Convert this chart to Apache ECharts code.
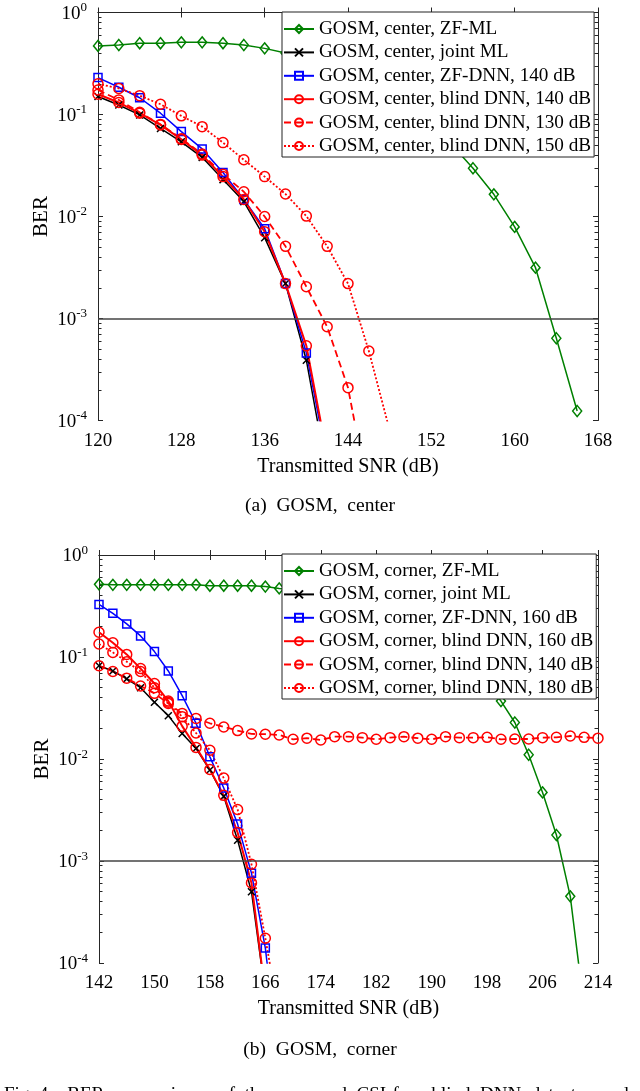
<!DOCTYPE html>
<html>
<head>
<meta charset="utf-8">
<script src="https://cdn.jsdelivr.net/npm/echarts@6/dist/echarts.min.js"></script>
<style>
  html, body { margin: 0; padding: 0; background: #fff; }
  #chart { width: 640px; height: 1091px; }
</style>
</head>
<body>
<div id="chart"></div>
<script>
// SNR grids (dB)
const snrA = [120, 122, 124, 126, 128, 130, 132, 134, 136, 138, 140, 142, 144, 146, 148, 150, 152, 154, 156, 158, 160, 162, 164, 166, 168]
const snrB = [142, 144, 146, 148, 150, 152, 154, 156, 158, 160, 162, 164, 166, 168, 170, 172, 174, 176, 178, 180,
  182, 184, 186, 188, 190, 192, 194, 196, 198, 200, 202, 204, 206, 208, 210, 212, 214]

// (a) GOSM, center
const zfmlA = [0.47, 0.48, 0.50, 0.50, 0.51, 0.51, 0.50, 0.48, 0.445, 0.40, 0.35, 0.29, 0.23, 0.17, 0.13, 0.095,
  0.07, 0.05, 0.0297, 0.0165, 0.0079, 0.00315, 0.00064, 0.000124]
const jointA = [0.15, 0.124, 0.099, 0.073, 0.054, 0.038, 0.023, 0.014, 0.0062, 0.0022, 0.00039, 0.00003]
const zfdnnA = [0.23, 0.185, 0.146, 0.103, 0.068, 0.046, 0.027, 0.0147, 0.0076, 0.0022, 0.00046, 0.00004]
const blind140A = [0.158, 0.131, 0.103, 0.079, 0.057, 0.040, 0.0246, 0.0147, 0.0071, 0.0022, 0.00054, 0.000045]
const blind130A = [0.174, 0.139, 0.105, 0.080, 0.058, 0.041, 0.026, 0.0175, 0.010, 0.0051, 0.00205, 0.00083, 0.00021, 0.000018]
const blind150A = [0.20, 0.18, 0.153, 0.126, 0.097, 0.076, 0.053, 0.036, 0.0246, 0.0166, 0.0101, 0.0051, 0.0022, 0.00048, 0.00008]

// (b) GOSM, corner
const zfmlB = [0.516, 0.51, 0.51, 0.51, 0.51, 0.51, 0.51, 0.51, 0.50, 0.50, 0.50, 0.50, 0.49, 0.47, 0.46, 0.45,
  0.44, 0.43, 0.41, 0.39, 0.36, 0.33, 0.29, 0.25, 0.20, 0.155, 0.115, 0.08, 0.055, 0.037, 0.0228, 0.011,
  0.0047, 0.0018, 0.00045, 0.000036]
const jointB = [0.082, 0.073, 0.061, 0.050, 0.036, 0.0266, 0.0178, 0.0127, 0.0078, 0.0043, 0.0016, 0.0005, 0.00005]
const zfdnnB = [0.328, 0.268, 0.211, 0.161, 0.113, 0.073, 0.0418, 0.0224, 0.0105, 0.0052, 0.0023, 0.00076, 0.00014, 0.00001]
const blind160B = [0.175, 0.138, 0.106, 0.077, 0.055, 0.037, 0.021, 0.013, 0.0079, 0.0044, 0.0019, 0.00061, 0.00005]
const blind140B = [0.082, 0.072, 0.062, 0.052, 0.044, 0.035, 0.028, 0.025, 0.0224, 0.0206, 0.019, 0.0176, 0.0175,
  0.0172, 0.0156, 0.016, 0.01535, 0.01655, 0.01655, 0.0162, 0.0156, 0.0162, 0.01655, 0.016, 0.0156, 0.01655,
  0.0162, 0.0162, 0.0163, 0.0156, 0.0157, 0.0157, 0.0162, 0.0163, 0.0168, 0.0163, 0.016]
const blind180B = [0.134, 0.111, 0.09, 0.072, 0.05, 0.036, 0.026, 0.018, 0.0122, 0.0065, 0.0032, 0.00093, 0.000175, 0.00003]

const namesA = ['GOSM, center, ZF-ML', 'GOSM, center, joint ML', 'GOSM, center, ZF-DNN, 140 dB',
  'GOSM, center, blind DNN, 140 dB', 'GOSM, center, blind DNN, 130 dB', 'GOSM, center, blind DNN, 150 dB']
const namesB = ['GOSM, corner, ZF-ML', 'GOSM, corner, joint ML', 'GOSM, corner, ZF-DNN, 160 dB',
  'GOSM, corner, blind DNN, 160 dB', 'GOSM, corner, blind DNN, 140 dB', 'GOSM, corner, blind DNN, 180 dB']

const BER_REF = 1e-3
const FONT = '"Liberation Serif", "DejaVu Serif", serif'
const AX = '#262626'

// minor ticks of the log axis, as exponents (log10 of 2..9 in every decade)
const minorExp = []
for (let e = -4; e < 0; e++) {
  for (let k = 2; k <= 9; k++) minorExp.push(e + Math.log10(k))
}

const styles = [
  { color: '#008000', symbol: 'diamond', symbolSize: [9, 11], width: 1.5, type: 'solid' },
  { color: '#000000', symbol: 'path://M0,0L10,10M10,0L0,10', symbolSize: 7, width: 1.5, type: 'solid' },
  { color: '#0000ff', symbol: 'rect', symbolSize: 8, width: 1.5, type: 'solid' },
  { color: '#ff0000', symbol: 'circle', symbolSize: 10, width: 2, type: 'solid' },
  { color: '#ff0000', symbol: 'circle', symbolSize: 10, width: 1.8, type: [7, 4] },
  { color: '#ff0000', symbol: 'circle', symbolSize: 10, width: 1.8, type: [2, 2] }
]

const mkSeries = (name, xs, ys, st, xi, yi, refLine) => {
  const s = {
    type: 'line',
    name,
    xAxisIndex: xi,
    yAxisIndex: yi,
    data: ys.map((v, i) => [xs[i], v]),
    symbol: st.symbol,
    symbolSize: st.symbolSize,
    clip: true,
    itemStyle: { color: 'rgba(0,0,0,0)', borderColor: st.color, borderWidth: 1.5 },
    lineStyle: { color: st.color, width: st.width, type: st.type },
    emphasis: { disabled: true }
  }
  if (refLine) {
    s.markLine = {
      silent: true,
      symbol: ['none', 'none'],
      label: { show: false },
      lineStyle: { color: '#444', width: 1.5, type: 'solid' },
      data: [[{ coord: [xs[0], BER_REF] }, { coord: [xs[xs.length - 1], BER_REF] }]]
    }
  }
  return s
}

const xAxisPair = (grid, min, max) => [
  {
    type: 'value', gridIndex: grid, position: 'bottom', min, max, interval: 8,
    name: 'Transmitted SNR (dB)', nameLocation: 'middle', nameGap: 36, nameMoveOverlap: false,
    nameTextStyle: { fontFamily: FONT, fontSize: 20, color: '#000' },
    axisLine: { show: true, lineStyle: { color: AX, width: 1 } },
    axisTick: { inside: true, length: 5, lineStyle: { color: AX } },
    axisLabel: { fontFamily: FONT, fontSize: 19, color: '#000', margin: 11 },
    splitLine: { show: false }
  },
  {
    type: 'value', gridIndex: grid, position: 'top', min, max, interval: 8,
    axisLine: { show: true, lineStyle: { color: AX, width: 1 } },
    axisTick: { inside: true, length: 5, lineStyle: { color: AX } },
    axisLabel: { show: false },
    splitLine: { show: false }
  }
]

const logLabel = v => {
  const e = Math.round(Math.log10(v))
  return '{b|10}{s|' + e + '}'
}

const yAxisSet = grid => {
  const base = { type: 'log', logBase: 10, gridIndex: grid, min: 1e-4, max: 1, splitLine: { show: false } }
  const minor = position => ({
    type: 'value', gridIndex: grid, position, min: -4, max: 0,
    axisLine: { show: false },
    axisTick: { show: true, inside: true, length: 3.5, customValues: minorExp, lineStyle: { color: AX } },
    axisLabel: { show: false },
    splitLine: { show: false }
  })
  return [
    Object.assign({}, base, {
      position: 'left',
      name: 'BER', nameLocation: 'middle', nameGap: 46, nameRotate: 90, nameMoveOverlap: false,
      nameTextStyle: { fontFamily: FONT, fontSize: 21, color: '#000' },
      axisLine: { show: true, lineStyle: { color: AX, width: 1 } },
      axisTick: { inside: true, length: 5, lineStyle: { color: AX } },
      axisLabel: {
        formatter: logLabel, margin: 11,
        rich: {
          b: { fontFamily: FONT, fontSize: 19, color: '#000', verticalAlign: 'bottom' },
          s: { fontFamily: FONT, fontSize: 13, color: '#000', verticalAlign: 'top', padding: [0, 0, 9, 0] }
        }
      }
    }),
    minor('left'),
    Object.assign({}, base, {
      position: 'right',
      axisLine: { show: true, lineStyle: { color: AX, width: 1 } },
      axisTick: { inside: true, length: 5, lineStyle: { color: AX } },
      axisLabel: { show: false }
    }),
    minor('right')
  ]
}

const legendBox = (names, top) => ({
  data: names,
  orient: 'vertical',
  left: 282,
  top,
  padding: [7, 3, 1, 1],
  itemGap: 3.4,
  itemWidth: 30,
  itemHeight: 10,
  backgroundColor: '#fff',
  borderColor: '#222',
  borderWidth: 1,
  borderRadius: 0,
  textStyle: { fontFamily: FONT, fontSize: 19.2, color: '#000', lineHeight: 20 },
  selectedMode: false
})

const seriesA = [zfmlA, jointA, zfdnnA, blind140A, blind130A, blind150A]
  .map((ys, i) => mkSeries(namesA[i], snrA, ys, styles[i], 0, 0, i === 1))
const seriesB = [zfmlB, jointB, zfdnnB, blind160B, blind140B, blind180B]
  .map((ys, i) => mkSeries(namesB[i], snrB, ys, styles[i], 2, 4, i === 1))

const chart = echarts.init(document.getElementById('chart'))
chart.setOption({
  animation: false,
  backgroundColor: '#fff',
  grid: [
    { left: 98, top: 12.5, width: 500, height: 408 },
    { left: 99, top: 555, width: 499, height: 408 }
  ],
  xAxis: [...xAxisPair(0, 120, 168), ...xAxisPair(1, 142, 214)],
  yAxis: [...yAxisSet(0), ...yAxisSet(1)],
  legend: [legendBox(namesA, 12), legendBox(namesB, 554)],
  graphic: [
    { type: 'text', x: 320, y: 506, style: { text: '(a)  GOSM,  center', font: '19.5px ' + FONT, fill: '#000', align: 'center', verticalAlign: 'middle' } },
    { type: 'text', x: 320, y: 1050, style: { text: '(b)  GOSM,  corner', font: '19.5px ' + FONT, fill: '#000', align: 'center', verticalAlign: 'middle' } },
    { type: 'text', x: 4, y: 1086, style: { text: 'Fig. 4.   BER  comparisons  of  the  proposed  CSI-free  blind  DNN  detector  and', font: '19px ' + FONT, fill: '#000', align: 'left', verticalAlign: 'top' } }
  ],
  series: [...seriesA, ...seriesB]
})
</script>
</body>
</html>
